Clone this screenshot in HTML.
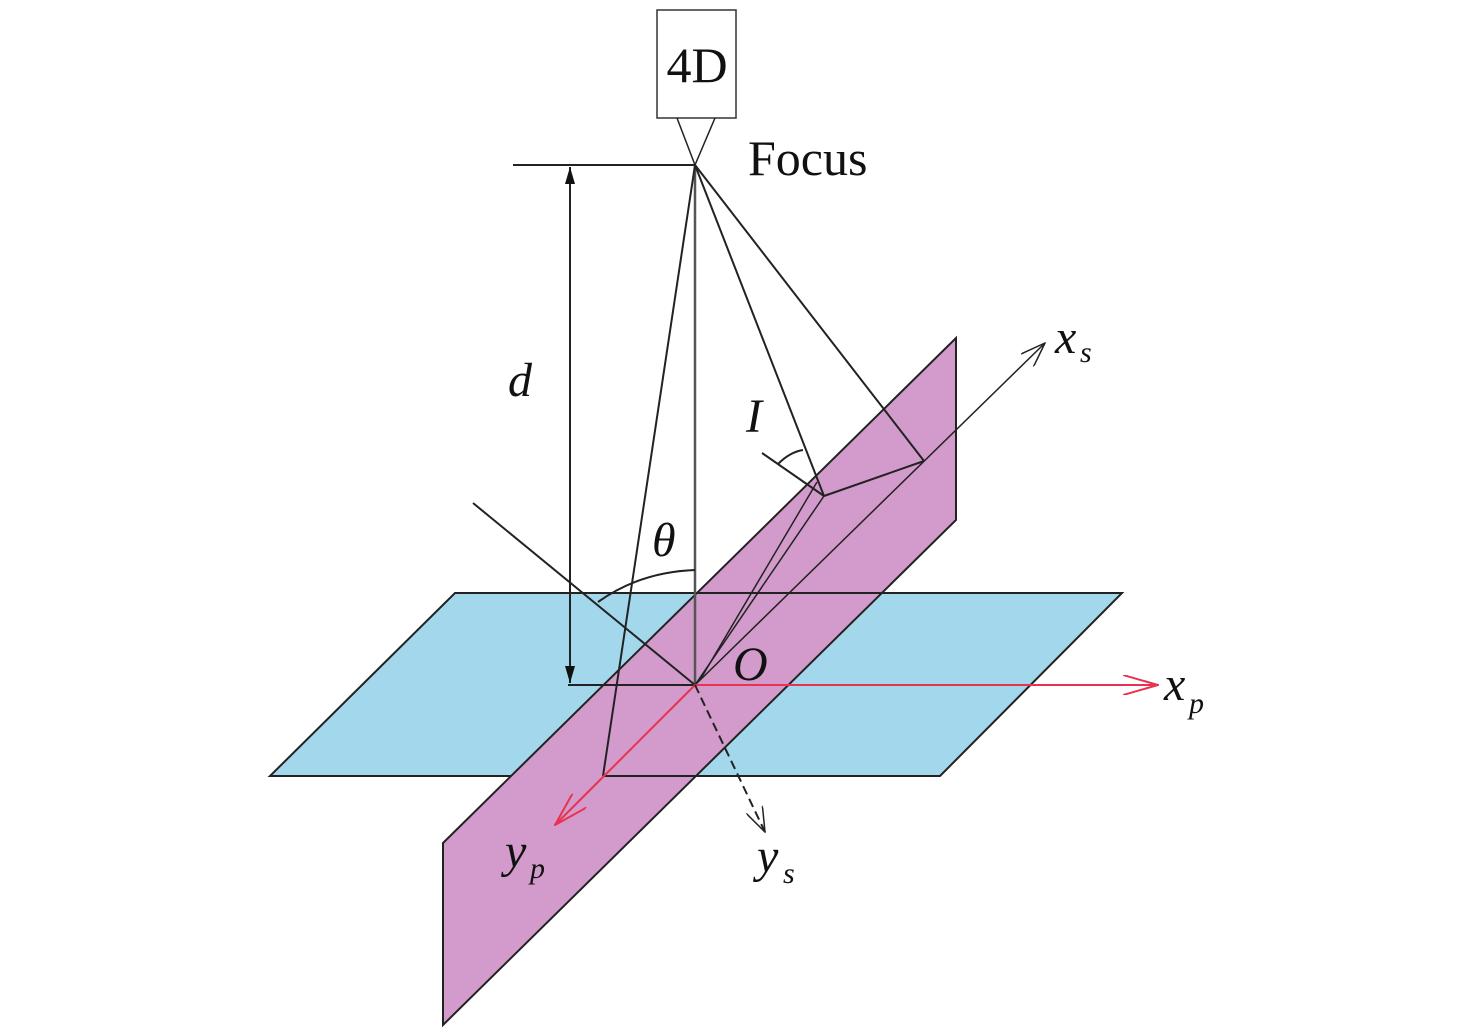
<!DOCTYPE html>
<html><head><meta charset="utf-8"><style>
html,body{margin:0;padding:0;background:#fff;}
svg{display:block;}
text{font-family:"Liberation Serif",serif;fill:#111;}
</style></head><body>
<svg width="1476" height="1028" viewBox="0 0 1476 1028" xmlns="http://www.w3.org/2000/svg">
<defs>
<marker id="ah" markerWidth="14" markerHeight="10" refX="13" refY="5" orient="auto" markerUnits="userSpaceOnUse"><path d="M0,0 L13,5 L0,10" fill="none" stroke="#222" stroke-width="1.5"/></marker>
<marker id="ahr" markerWidth="36" markerHeight="20" refX="35" refY="10" orient="auto" markerUnits="userSpaceOnUse"><path d="M0,0 L35,10 L0,20" fill="none" stroke="#e8324f" stroke-width="2"/></marker>
<marker id="ahk" markerWidth="26" markerHeight="18" refX="25" refY="9" orient="auto" markerUnits="userSpaceOnUse"><path d="M0,0 L25,9 L0,18" fill="none" stroke="#222" stroke-width="1.5"/></marker>
<marker id="dim" markerWidth="18" markerHeight="10" refX="17" refY="5" orient="auto-start-reverse" markerUnits="userSpaceOnUse"><path d="M0,0 L17,5 L0,10 Z" fill="#111"/></marker>
</defs>
<polygon points="455,593 1122,593 940,776 270,776" fill="#a3d8ec" stroke="#222" stroke-width="2"/>
<polygon points="443,843 956,338 956,520 443,1025" fill="#d29bcc" stroke="#222" stroke-width="2"/>
<line x1="695" y1="593" x2="881" y2="593" stroke="#222" stroke-width="2"/>
<line x1="604" y1="776" x2="800" y2="776" stroke="#222" stroke-width="2"/>
<rect x="657" y="10" width="79" height="108" fill="#fff" stroke="#333" stroke-width="1.5"/>
<text x="697" y="82" font-size="50" text-anchor="middle">4D</text>
<line x1="677" y1="118" x2="695" y2="165" stroke="#222" stroke-width="1.5"/>
<line x1="715" y1="118" x2="695" y2="165" stroke="#222" stroke-width="1.5"/>
<text x="748" y="175" font-size="50">Focus</text>
<line x1="513" y1="165" x2="695" y2="165" stroke="#222" stroke-width="2"/>
<line x1="568" y1="685" x2="695" y2="685" stroke="#222" stroke-width="2"/>
<line x1="570" y1="167" x2="570" y2="683" stroke="#222" stroke-width="2" marker-start="url(#dim)" marker-end="url(#dim)"/>
<text x="508" y="396" font-size="48" font-style="italic">d</text>
<line x1="695" y1="165" x2="695" y2="685" stroke="#555" stroke-width="2.5"/>
<line x1="695" y1="165" x2="603" y2="776" stroke="#222" stroke-width="2"/>
<line x1="695" y1="165" x2="824" y2="496" stroke="#222" stroke-width="2"/>
<line x1="695" y1="165" x2="924" y2="461" stroke="#222" stroke-width="2"/>
<line x1="824" y1="496" x2="924" y2="461" stroke="#222" stroke-width="2"/>
<line x1="824" y1="496" x2="695" y2="685" stroke="#222" stroke-width="1.5"/>
<line x1="817" y1="482" x2="700" y2="680" stroke="#222" stroke-width="1.5"/>
<line x1="762" y1="453" x2="824" y2="496" stroke="#222" stroke-width="2"/>
<path d="M778,464 Q790,452 803,450" fill="none" stroke="#222" stroke-width="2"/>
<text x="746" y="432" font-size="48" font-style="italic">I</text>
<line x1="473" y1="503" x2="695" y2="685" stroke="#222" stroke-width="2"/>
<path d="M598,602 Q640,572 695,570" fill="none" stroke="#222" stroke-width="2"/>
<text x="652" y="556" font-size="48" font-style="italic">θ</text>
<line x1="695" y1="685" x2="1045" y2="343" stroke="#222" stroke-width="1.5" marker-end="url(#ahk)"/>
<text x="1055" y="353" font-size="48" font-style="italic">x</text>
<text x="1080" y="362" font-size="30" font-style="italic">s</text>
<line x1="695" y1="685" x2="1158" y2="685" stroke="#e8324f" stroke-width="2" marker-end="url(#ahr)"/>
<text x="1164" y="700" font-size="48" font-style="italic">x</text>
<text x="1189" y="713" font-size="30" font-style="italic">p</text>
<line x1="695" y1="685" x2="555" y2="825" stroke="#e8324f" stroke-width="2" marker-end="url(#ahr)"/>
<text x="505" y="867" font-size="48" font-style="italic">y</text>
<text x="530" y="878" font-size="30" font-style="italic">p</text>
<line x1="695" y1="685" x2="765" y2="832" stroke="#222" stroke-width="2" stroke-dasharray="9,5" marker-end="url(#ahk)"/>
<text x="757" y="872" font-size="48" font-style="italic">y</text>
<text x="783" y="883" font-size="30" font-style="italic">s</text>
<text x="733" y="680" font-size="48" font-style="italic">O</text>
</svg>
</body></html>
